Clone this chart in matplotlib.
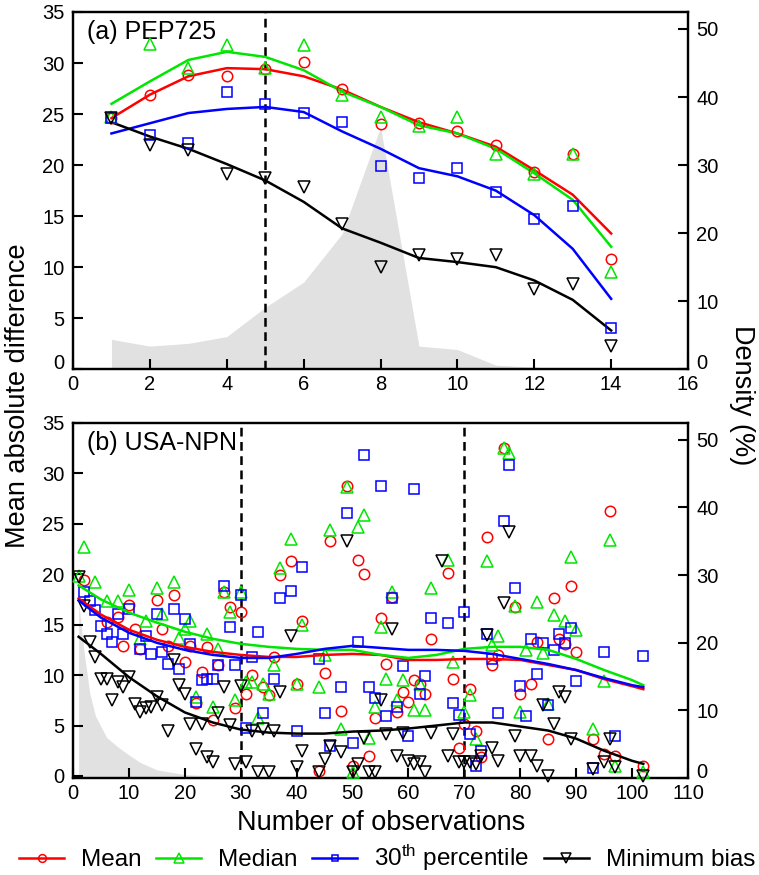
import numpy as np
import matplotlib
matplotlib.use("Agg")
import matplotlib.pyplot as plt
from matplotlib.lines import Line2D

plt.rcParams["font.family"] = ["Liberation Sans", "DejaVu Sans"]
plt.rcParams["mathtext.fontset"] = "custom"
plt.rcParams["mathtext.rm"] = "Liberation Sans"
plt.rcParams["mathtext.it"] = "Liberation Sans"

# ---- panel (a) PEP725 ----
a_x = [1, 2, 3, 4, 5, 6, 7, 8, 9, 10, 11, 12, 13, 14]
a_mean = [24.6, 26.9, 28.8, 28.7, 29.4, 30.1, 27.5, 24.0, 24.1, 23.3, 22.0, 19.3, 21.1, 10.8]
a_median = [24.7, 31.9, 29.5, 31.8, 29.5, 31.8, 26.9, 24.7, 23.8, 24.7, 21.1, 19.1, 21.1, 9.5]
a_p30 = [24.6, 22.9, 22.2, 27.2, 26.0, 25.1, 24.2, 19.9, 18.7, 19.7, 17.4, 14.7, 16.0, 4.0]
a_minb = [24.6, 22.0, 21.5, 19.1, 18.7, 17.9, 14.2, 10.0, 11.2, 10.8, 11.2, 7.9, 8.4, 2.3]
# smoothed curves
a_mean_fit = [24.6, 26.9, 28.7, 29.5, 29.4, 28.7, 27.4, 25.7, 24.2, 23.1, 21.8, 19.5, 17.1, 13.3]
a_median_fit = [26.0, 28.2, 30.3, 31.1, 30.6, 29.3, 27.2, 25.7, 23.9, 23.1, 21.6, 19.2, 16.6, 12.0]
a_p30_fit = [23.1, 24.1, 25.1, 25.5, 25.7, 25.2, 23.3, 21.6, 19.7, 18.9, 17.5, 15.1, 11.8, 6.9]
a_minb_fit = [24.2, 22.8, 21.6, 20.1, 18.5, 16.4, 13.8, 12.4, 10.9, 10.5, 10.0, 8.7, 6.8, 3.8]
# density (%)
a_dens = [4.4, 3.4, 3.8, 4.8, 9.1, 12.8, 19.9, 35.6, 3.4, 2.9, 0.6, 0.3, 0.0, 0.0]
a_cut = 5

# ---- panel (b) USA-NPN ----
b_mean_x = [2, 6, 8, 9, 10, 11, 12, 15, 16, 17, 18, 20, 21, 22, 23, 24, 25, 26, 27, 28,
            29, 30, 31, 32, 34, 35, 36, 37, 39, 40, 41, 44, 45, 46, 48, 49, 50, 51, 52, 53,
            54, 55, 56, 57, 58, 59, 60, 61, 62, 63, 64, 67, 68, 69, 70, 71, 72, 73, 74, 75,
            76, 77, 79, 80, 82, 83, 85, 86, 87, 88, 89, 90, 93, 95, 96, 97, 102]
b_mean = [19.4, 15.3, 15.8, 12.9, 17.0, 14.6, 12.6, 17.4, 14.6, 12.9, 17.9, 11.3, 12.9, 7.2, 10.3, 12.8, 5.5, 11.0, 18.2, 16.8,
          6.7, 16.3, 8.1, 10.0, 8.8, 8.0, 11.8, 19.9, 21.3, 9.1, 15.4, 0.5, 10.2, 23.3, 6.4, 28.8, 1.0, 21.4, 20.0, 2.0,
          5.7, 15.7, 11.1, 17.7, 6.3, 8.3, 7.3, 9.5, 9.1, 8.1, 13.6, 20.1, 9.6, 2.8, 5.2, 8.6, 4.5, 1.9, 23.7, 11.0,
          12.0, 32.5, 16.8, 8.1, 9.1, 13.3, 3.7, 17.6, 13.6, 13.1, 18.8, 12.3, 3.7, 2.2, 26.3, 2.0, 1.0]

b_median_x = [1, 2, 4, 6, 8, 10, 12, 13, 15, 16, 18, 19, 20, 21, 22, 24, 25, 26, 27, 28,
              29, 30, 31, 32, 33, 34, 35, 36, 37, 39, 40, 41, 44, 45, 46, 48, 49, 50, 51, 52,
              53, 54, 55, 56, 57, 58, 59, 61, 62, 63, 64, 67, 68, 70, 71, 72, 74, 75, 76, 77,
              78, 79, 80, 81, 83, 84, 85, 86, 88, 89, 90, 93, 95, 96, 97, 102]
b_median = [19.8, 22.7, 19.2, 17.3, 17.3, 18.4, 13.6, 15.4, 18.6, 16.1, 19.2, 13.7, 14.6, 15.4, 7.8, 14.1, 6.8, 12.6, 18.2, 16.3,
            7.5, 18.2, 9.3, 9.3, 5.7, 9.1, 8.1, 11.0, 20.6, 23.5, 9.1, 15.0, 8.8, 12.0, 24.4, 4.7, 28.7, 0.4, 24.7, 25.9,
            3.8, 6.8, 14.8, 9.6, 18.2, 7.5, 9.5, 6.5, 9.1, 6.5, 18.6, 21.4, 11.3, 6.3, 8.0, 3.7, 21.3, 13.0, 13.9, 32.5,
            32.0, 16.9, 6.3, 12.5, 17.2, 12.2, 7.1, 16.0, 15.4, 21.7, 14.5, 4.7, 9.4, 23.4, 1.0, 0.4]

b_p30_x = [2, 3, 4, 5, 6, 7, 8, 9, 10, 12, 13, 14, 15, 16, 17, 18, 19, 20, 21, 22,
           23, 24, 25, 26, 27, 28, 29, 30, 31, 32, 33, 34, 36, 37, 39, 40, 41, 44, 45, 46,
           48, 49, 50, 51, 52, 53, 54, 55, 56, 57, 58, 59, 60, 61, 62, 63, 64, 67, 68, 69,
           70, 71, 72, 73, 74, 75, 76, 77, 78, 79, 80, 81, 82, 83, 84, 85, 86, 87, 88, 89,
           90, 93, 95, 97, 102]
b_p30 = [18.2, 17.3, 16.5, 14.9, 14.1, 13.3, 16.1, 14.1, 16.6, 12.6, 13.9, 12.1, 16.1, 12.3, 11.1, 16.6, 10.6, 15.6, 13.1, 7.3,
         9.5, 9.6, 9.6, 11.0, 18.8, 14.8, 11.0, 17.9, 4.8, 11.8, 14.3, 6.2, 9.6, 17.6, 18.3, 4.5, 20.7, 11.6, 6.2, 3.0,
         8.8, 26.1, 3.3, 13.3, 31.8, 8.8, 7.7, 28.8, 5.9, 17.6, 6.8, 10.9, 4.0, 28.5, 8.1, 9.9, 15.7, 15.2, 7.2, 6.0,
         16.3, 4.2, 1.0, 2.5, 14.1, 11.6, 6.2, 25.3, 30.8, 18.6, 8.9, 5.9, 13.6, 10.1, 13.2, 7.0, 12.5, 14.1, 13.2, 14.7,
         9.4, 0.8, 12.3, 4.0, 11.9]

b_minb_x = [1, 2, 3, 4, 5, 6, 7, 8, 9, 10, 11, 12, 13, 14, 15, 16, 17, 18, 19, 20,
            21, 22, 23, 24, 25, 26, 27, 28, 29, 30, 31, 32, 33, 34, 35, 36, 37, 39, 40, 41,
            44, 45, 46, 48, 49, 50, 51, 52, 53, 54, 55, 56, 57, 58, 59, 60, 61, 62, 63, 64,
            66, 67, 68, 69, 70, 71, 72, 73, 74, 75, 76, 77, 78, 79, 80, 82, 83, 84, 85, 86,
            87, 88, 89, 93, 95, 96, 97, 102]
b_minb = [19.7, 16.9, 13.3, 11.8, 9.6, 9.6, 7.5, 9.3, 8.8, 9.8, 7.1, 6.3, 6.7, 6.8, 7.8, 7.0, 4.5, 11.5, 9.0, 8.1,
          5.2, 2.7, 5.2, 1.9, 1.4, 6.2, 8.8, 5.1, 1.2, 8.9, 1.4, 4.5, 0.4, 4.7, 0.4, 4.5, 8.3, 13.9, 0.9, 2.5,
          0.4, 1.7, 3.0, 2.4, 23.3, 0.4, 1.2, 3.8, 0.4, 0.4, 7.5, 4.2, 14.6, 2.0, 4.3, 1.5, 1.2, 1.4, 0.4, 4.3,
          21.3, 2.0, 4.2, 1.4, 1.4, 1.4, 1.2, 2.0, 14.0, 2.8, 1.5, 17.1, 24.2, 4.0, 2.0, 2.0, 1.0, 7.0, 0.0, 5.2,
          8.3, 7.8, 3.7, 0.7, 1.4, 3.7, 0.9, 0.0]

# smoothed curves for (b)
b_fit_x = [1, 5, 10, 15, 20, 25, 30, 35, 40, 45, 50, 55, 60, 65, 70, 75, 80, 85, 90, 95, 100, 102]
b_mean_fit = [17.6, 16.0, 14.5, 13.5, 12.8, 12.3, 12.0, 11.8, 11.8, 12.0, 12.1, 12.0, 11.5, 11.5, 11.6, 11.6, 11.5, 11.0, 10.5, 9.6, 8.9, 8.6]
b_median_fit = [18.9, 17.5, 16.2, 15.2, 14.3, 13.6, 13.1, 12.8, 12.6, 12.5, 12.5, 12.0, 11.7, 12.0, 12.6, 12.8, 12.8, 12.5, 11.6, 10.5, 9.5, 9.0]
b_p30_fit = [17.4, 15.7, 14.2, 13.2, 12.5, 12.0, 11.7, 11.7, 12.1, 12.6, 12.9, 12.7, 12.5, 12.5, 12.4, 12.1, 11.6, 11.1, 10.5, 9.7, 9.0, 8.8]
b_minb_fit = [13.8, 12.1, 9.8, 7.9, 6.3, 5.3, 4.6, 4.3, 4.2, 4.2, 4.4, 4.5, 4.7, 5.0, 5.3, 5.3, 4.9, 4.5, 3.7, 2.5, 1.5, 1.2]
# density (%)
b_dens_x = [1, 2, 3, 4, 5, 6, 8, 10, 12, 15, 20, 25, 30, 40, 60, 80, 102]
b_dens = [26.0, 18.5, 12.5, 9.2, 7.6, 6.0, 4.6, 3.4, 2.3, 1.2, 0.5, 0.3, 0.2, 0.1, 0.05, 0.03, 0.0]
b_cuts = [30, 70]

series = [
    ("Mean", "#ff0000", "o", 7.5),
    ("Median", "#00e600", "^", 9),
    (r"30$^{\mathrm{th}}$ percentile", "#0000ff", "s", 6.5),
    ("Minimum bias", "#000000", "v", 9),
]

TICK_FS = 14.5
LABEL_FS = 19.5
PANEL_FS = 18
LEG_FS = 17.5


def style(ax, twin, xlim, xticks, ylim):
    ax.set_xlim(*xlim)
    ax.set_ylim(*ylim)
    ax.set_xticks(xticks)
    ax.set_yticks(np.arange(0, 36, 5))
    twin.set_ylim(0, ylim[1] * 52.5 / 35)
    twin.set_yticks(np.arange(0, 51, 10))
    for a in (ax, twin):
        for s in a.spines.values():
            s.set_linewidth(1.6)
        a.tick_params(direction="in", length=7, width=1.5, labelsize=TICK_FS, pad=6)
    ax.tick_params(axis="x", pad=4)
    ax.set_zorder(twin.get_zorder() + 1)
    ax.patch.set_visible(False)


fig = plt.figure(figsize=(7.59, 8.75), dpi=100)
ax_a = fig.add_axes([0.0962, 0.578, 0.8103, 0.4083])
tw_a = ax_a.twinx()
ax_b = fig.add_axes([0.0962, 0.1109, 0.8103, 0.4057])
tw_b = ax_b.twinx()

# panel a
tw_a.fill_between(a_x, 0, a_dens, color="#e1e1e1", lw=0)
ax_a.axvline(a_cut, color="k", lw=1.8, ls=(0, (3.5, 2.2)), zorder=1)
a_pts = [a_mean, a_median, a_p30, a_minb]
a_fits = [a_mean_fit, a_median_fit, a_p30_fit, a_minb_fit]
for (name, c, m, ms), pts, fit in zip(series, a_pts, a_fits):
    ax_a.plot(a_x, fit, color=c, lw=1.8, zorder=3)
    ax_a.plot(a_x, pts, ls="none", marker=m, ms=ms, mfc="none", mec=c, mew=1.1, zorder=4, clip_on=False)
style(ax_a, tw_a, (0, 16), np.arange(0, 17, 2), (0, 35))
ax_a.text(0.022, 0.978, "(a) PEP725", transform=ax_a.transAxes, fontsize=PANEL_FS, va="top", ha="left")

# panel b
tw_b.fill_between(b_dens_x, 0, b_dens, color="#e1e1e1", lw=0)
for cx in b_cuts:
    ax_b.axvline(cx, color="k", lw=1.8, ls=(0, (3.5, 2.2)), zorder=1)
b_pts = [(b_mean_x, b_mean), (b_median_x, b_median), (b_p30_x, b_p30), (b_minb_x, b_minb)]
b_fits = [b_mean_fit, b_median_fit, b_p30_fit, b_minb_fit]
for (name, c, m, ms), (px, py), fit in zip(series, b_pts, b_fits):
    ax_b.plot(px, py, ls="none", marker=m, ms=ms, mfc="none", mec=c, mew=1.1, zorder=3, clip_on=False)
for (name, c, m, ms), fit in zip(series, b_fits):
    ax_b.plot(b_fit_x, fit, color=c, lw=1.8, zorder=4)
style(ax_b, tw_b, (0, 110), np.arange(0, 111, 10), (-0.2, 35))
ax_b.text(0.022, 0.978, "(b) USA-NPN", transform=ax_b.transAxes, fontsize=PANEL_FS, va="top", ha="left",
          bbox=dict(facecolor="white", edgecolor="none", pad=0))

# bottom "0" labels sit a little higher, as in the original
for lab in (ax_a.get_yticklabels()[0], tw_a.get_yticklabels()[0], tw_b.get_yticklabels()[0]):
    lab.set_verticalalignment("baseline")

fig.text(0.024, 0.548, "Mean absolute difference", rotation=90, fontsize=LABEL_FS, ha="center", va="center")
fig.text(0.978, 0.548, "Density (%)", rotation=270, fontsize=LABEL_FS, ha="center", va="center")
fig.text(0.502, 0.0594, "Number of observations", fontsize=LABEL_FS, ha="center", va="center")

handles = [Line2D([], [], color=c, lw=1.8, marker=m, ms=ms * 0.75, mfc="none", mec=c, mew=1.1)
           for (name, c, m, ms) in series]
fig.legend(handles, [s[0] for s in series], loc="center", bbox_to_anchor=(0.51, 0.0194), ncol=4,
           frameon=False, fontsize=LEG_FS, handlelength=1.85, handletextpad=0.7, columnspacing=0.6,
           borderaxespad=0, borderpad=0)

fig.savefig("out.png", dpi=100)
